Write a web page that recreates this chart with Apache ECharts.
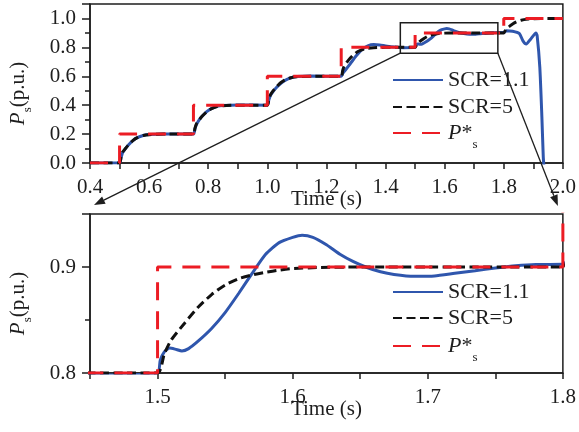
<!DOCTYPE html>
<html><head><meta charset="utf-8">
<script src="https://cdn.jsdelivr.net/npm/echarts@6/dist/echarts.min.js"></script>
<style>html,body{margin:0;padding:0;background:#fff}#c{width:579px;height:432px}</style>
</head><body><div id="c"></div>
<script>
const seriesNames = ['SCR=1.1', 'SCR=5', 'P*'];

const scr11Time = [0.4,0.5,0.505,0.51,0.52,0.53,0.545,0.56,0.58,0.6,0.65,0.75,0.755,0.76,0.77,0.78,0.795,0.81,0.83,0.85,0.9,1.0,1.005,1.01,1.02,1.03,1.045,1.06,1.08,1.1,1.15,1.25,1.255,1.265,1.28,1.3,1.32,1.34,1.36,1.38,1.4,1.43,1.46,1.5,1.502,1.505,1.509,1.513,1.518,1.523,1.53,1.54,1.55,1.56,1.57,1.58,1.59,1.6,1.607,1.615,1.625,1.635,1.645,1.655,1.665,1.675,1.69,1.705,1.72,1.735,1.75,1.765,1.78,1.8,1.809,1.83,1.853,1.865,1.876,1.89,1.909,1.913,1.922,1.929,1.9337,1.937];
const scr11Power = [0,0,0.035,0.07,0.1,0.125,0.155,0.175,0.19,0.197,0.2,0.2,0.235,0.265,0.3,0.325,0.355,0.376,0.392,0.398,0.401,0.4,0.435,0.465,0.495,0.52,0.55,0.572,0.59,0.598,0.602,0.6,0.62,0.645,0.685,0.74,0.785,0.81,0.819,0.817,0.81,0.802,0.798,0.8,0.812,0.82,0.8235,0.8225,0.8208,0.823,0.83,0.842,0.857,0.875,0.894,0.912,0.923,0.928,0.93,0.928,0.921,0.912,0.905,0.8995,0.8955,0.893,0.8912,0.8915,0.894,0.8965,0.899,0.9012,0.9024,0.9025,0.915,0.912,0.895,0.845,0.823,0.855,0.899,0.88,0.662,0.317,0.041,-0.05];

const scr5Time = [0.4,0.5,0.505,0.51,0.52,0.53,0.545,0.56,0.58,0.6,0.65,0.75,0.755,0.76,0.77,0.78,0.795,0.81,0.83,0.85,0.9,1.0,1.005,1.01,1.02,1.03,1.045,1.06,1.08,1.1,1.15,1.25,1.255,1.26,1.27,1.28,1.295,1.31,1.33,1.35,1.4,1.5,1.505,1.51,1.52,1.53,1.54,1.55,1.56,1.57,1.58,1.59,1.6,1.62,1.65,1.7,1.8,1.807,1.82,1.83,1.844,1.859,1.883,1.9,1.95,2.0];
const scr5Power = [0,0,0.04,0.075,0.1,0.125,0.155,0.175,0.19,0.196,0.2,0.2,0.24,0.27,0.3,0.325,0.355,0.375,0.39,0.396,0.4,0.4,0.44,0.47,0.5,0.525,0.555,0.575,0.59,0.596,0.6,0.6,0.64,0.67,0.7,0.725,0.755,0.775,0.79,0.796,0.8,0.8,0.818,0.831,0.847,0.862,0.874,0.883,0.889,0.8925,0.895,0.897,0.8985,0.8995,0.9,0.9,0.9,0.9245,0.9466,0.9623,0.978,0.988,0.9953,0.9985,1.0,1.0];

const refTime = [0.4,0.5,0.5,0.75,0.75,1.0,1.0,1.25,1.25,1.5,1.5,1.8,1.8,2.0];
const refPower = [0,0,0.2,0.2,0.4,0.4,0.6,0.6,0.8,0.8,0.9,0.9,1.0,1.0];

// axis ranges
const overviewX = [0.4, 2.0];
const overviewY = [0, 1.1];
const detailX = [1.45, 1.8];
const detailY = [0.8, 0.95];
// zoom box drawn on overview (data coords)
const zoomBoxX = [1.45, 1.78];
const zoomBoxY = [0.76, 0.97];

const FONT = 'Liberation Serif';
const INK = '#1e1e1e';
const BLUE = '#2f56ad';
const BLACK = '#111111';
const RED = '#ec1c24';

function zip(t, v) { return t.map((x, i) => [x, v[i]]); }

const chart = echarts.init(document.getElementById('c'), null, {renderer: 'canvas'});

const nameRich = {
  i: {fontFamily: FONT, fontSize: 21, fontStyle: 'italic', color: INK},
  s: {fontFamily: FONT, fontSize: 13, color: INK, padding: [18, 0, 0, 0]},
  n: {fontFamily: FONT, fontSize: 21, color: INK}
};

function xAxisCfg(grid, range, interval, minor, fmt, gap) {
  return {
    gridIndex: grid, type: 'value', min: range[0], max: range[1], interval: interval,
    axisLine: {onZero: false, lineStyle: {color: INK, width: 1.5}},
    axisTick: {inside: false, length: 6, lineStyle: {color: INK, width: 1.5}},
    minorTick: {show: minor, splitNumber: 2, length: 6, lineStyle: {color: INK, width: 1.5}},
    splitLine: {show: false},
    axisLabel: {fontFamily: FONT, fontSize: 21, color: INK, margin: 14, formatter: fmt},
    name: 'Time (s)', nameLocation: 'middle', nameGap: gap, nameMoveOverlap: false,
    nameTextStyle: {fontFamily: FONT, fontSize: 21, color: INK}
  };
}
function yAxisCfg(grid, range, interval, fmt) {
  return {
    gridIndex: grid, type: 'value', min: range[0], max: range[1], interval: interval,
    axisLine: {onZero: false, lineStyle: {color: INK, width: 1.5}},
    axisTick: {inside: false, length: 8, lineStyle: {color: INK, width: 1.5}},
    minorTick: {show: true, splitNumber: 2, length: 5, lineStyle: {color: INK, width: 1.5}},
    splitLine: {show: false},
    axisLabel: {fontFamily: FONT, fontSize: 21, color: INK, margin: 14, formatter: fmt},
    name: '{i|P}{s|s}{n|(p.u.)}', nameLocation: 'middle', nameGap: 56, nameRotate: 90, nameMoveOverlap: false,
    nameTextStyle: {fontFamily: FONT, fontSize: 21, color: INK, rich: nameRich, padding: [0, 20, 0, 0]}
  };
}

const isTenth = v => Math.abs(v * 10 - Math.round(v * 10)) < 1e-6;

const lineStyles = [
  {color: BLUE, width: 3, type: 'solid'},
  {color: BLACK, width: 3, type: [9, 4.5]},
  {color: RED, width: 3, type: [18, 11]}
];
const datasets = [zip(scr11Time, scr11Power), zip(scr5Time, scr5Power), zip(refTime, refPower)];

const series = [];
[0, 1].forEach(g => {
  seriesNames.forEach((nm, k) => {
    series.push({
      name: nm, type: 'line', xAxisIndex: g, yAxisIndex: g,
      data: datasets[k], symbol: 'none', clip: true,
      smooth: k < 2 ? 0.2 : false,
      lineStyle: lineStyles[k], itemStyle: {color: lineStyles[k].color},
      z: 2 + k
    });
  });
});

const legendRich = {
  i: {fontFamily: FONT, fontSize: 22, fontStyle: 'italic', color: INK},
  a: {fontFamily: FONT, fontSize: 22, color: INK},
  s: {fontFamily: FONT, fontSize: 13, color: INK, padding: [24, 0, 0, 0]}
};
function legendCfg(name, top) {
  return {
    data: [name], left: 392, top: top, padding: 0, itemWidth: 50, itemHeight: 14,
    selectedMode: false,
    itemStyle: {color: 'rgba(0,0,0,0)', borderColor: 'rgba(0,0,0,0)', borderWidth: 0},
    textStyle: {fontFamily: FONT, fontSize: 22, color: INK, rich: legendRich},
    formatter: n => n === 'P*' ? '{i|P}{a|*}{s|s}' : '{a|' + n + '}'
  };
}

chart.setOption({
  animation: false,
  backgroundColor: '#ffffff',
  grid: [
    {left: 86, right: 14, top: 4, height: 159, show: true, borderColor: INK, borderWidth: 1.5, backgroundColor: 'transparent'},
    {left: 86, right: 14, top: 214, height: 159, show: true, borderColor: INK, borderWidth: 1.5, backgroundColor: 'transparent'}
  ],
  xAxis: [
    xAxisCfg(0, overviewX, 0.2, true, v => v.toFixed(1), 26),
    xAxisCfg(1, detailX, 0.05, false, v => isTenth(v) && v > 1.46 ? v.toFixed(1) : '', 26)
  ],
  yAxis: [
    yAxisCfg(0, overviewY, 0.2, v => v > 1.05 ? '' : v.toFixed(1)),
    yAxisCfg(1, detailY, 0.1, v => v > 0.92 ? '' : v.toFixed(1))
  ],
  legend: [
    legendCfg('SCR=1.1', 69), legendCfg('SCR=5', 96), legendCfg('P*', 122),
    legendCfg('SCR=1.1', 281), legendCfg('SCR=5', 307), legendCfg('P*', 335)
  ],
  series: series
});

// zoom box and connecting arrows
const tl = chart.convertToPixel({gridIndex: 0}, [zoomBoxX[0], zoomBoxY[1]]);
const br = chart.convertToPixel({gridIndex: 0}, [zoomBoxX[1], zoomBoxY[0]]);
const dTL = chart.convertToPixel({gridIndex: 1}, [detailX[0], detailY[1]]);
const dTR = chart.convertToPixel({gridIndex: 1}, [detailX[1], detailY[1]]);

function arrow(a, b) {
  const dx = b[0] - a[0], dy = b[1] - a[1];
  const L = Math.sqrt(dx * dx + dy * dy), ux = dx / L, uy = dy / L;
  const hl = 11, hw = 4;
  const base = [b[0] - ux * hl, b[1] - uy * hl];
  return [
    {type: 'line', z: 50, shape: {x1: a[0], y1: a[1], x2: base[0], y2: base[1]}, style: {stroke: INK, lineWidth: 1.3}},
    {type: 'polygon', z: 50, shape: {points: [b, [base[0] - uy * hw, base[1] + ux * hw], [base[0] + uy * hw, base[1] - ux * hw]]}, style: {fill: INK}}
  ];
}

const graphics = [
  {type: 'rect', z: 50, shape: {x: tl[0], y: tl[1], width: br[0] - tl[0], height: br[1] - tl[1]}, style: {fill: 'none', stroke: INK, lineWidth: 1.5}}
].concat(
  arrow([tl[0], br[1]], [dTL[0] + 4, dTL[1] - 9]),
  arrow([br[0], br[1]], [dTR[0] - 5, dTR[1] - 8])
);
chart.setOption({graphic: graphics});
</script>
</body></html>
